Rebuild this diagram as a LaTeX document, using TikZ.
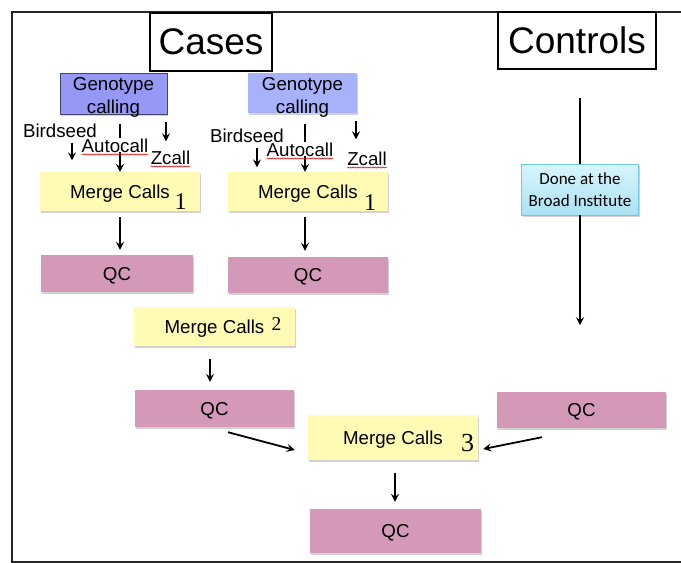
\documentclass[tikz,border=0pt]{standalone}
\usepackage{fontspec}
\setmainfont{Liberation Sans}
\newfontfamily\numfont{Liberation Serif}
\newfontfamily\calfont{Carlito}
\usepackage{xcolor}
\usetikzlibrary{calc,arrows.meta,shadows,decorations.pathmorphing}

\definecolor{genoA}{RGB}{150,152,245}
\definecolor{genoB}{RGB}{168,178,250}
\definecolor{mergeY}{RGB}{255,250,180}
\definecolor{qcP}{RGB}{212,153,184}
\definecolor{broadT}{RGB}{216,245,251}
\definecolor{broadB}{RGB}{170,226,243}
\definecolor{broadE}{RGB}{110,200,225}

\tikzset{
  txt/.style={font=\fontsize{18.7}{23}\selectfont},
  shad/.style={drop shadow={shadow xshift=1pt,shadow yshift=-2pt,fill=black!35,opacity=.5}},
  titlebox/.style={draw,fill=white,line width=1.5pt,inner sep=0pt,text depth=0pt,font=\fontsize{37}{40}\selectfont},
  genobox/.style={txt,shad,align=center,inner sep=0pt},
  mergebox/.style={txt,shad,fill=mergeY,inner sep=0pt,text depth=0pt},
  qcbox/.style={txt,shad,fill=qcP,inner sep=0pt,text depth=0pt},
  broadbox/.style={shad,draw=broadE,top color=broadT,bottom color=broadB,align=center,
    inner sep=0pt,font=\calfont\fontsize{17}{22}\selectfont},
  lbl/.style={txt,anchor=base,inner sep=0pt},
  numtxt/.style={anchor=base,inner sep=0pt},
  squig/.style={red!85!black,line width=.5pt,decorate,decoration={snake,amplitude=.6pt,segment length=2.5pt}},
  arr/.style={line width=1.8pt,-{Stealth[length=8pt,width=8pt,inset=3pt]}}
}

\begin{document}
\begin{tikzpicture}[x=1pt,y=-1pt]
\useasboundingbox (0,0) rectangle (681,563);
\draw[line width=2.8pt,black!85] (681,12) -- (12,12) -- (12,562) -- (681,562);

\node[titlebox,minimum width=122,minimum height=58] (cases) at (211,42) {Cases};
\node[titlebox,minimum width=158,minimum height=57] (controls) at (577,40.5) {Controls};

\node[genobox,fill=genoA,draw=genoA!45!black,minimum width=107,minimum height=41] (geno1) at (113.5,93.5) {};
\node[genobox,fill=genoB,minimum width=109,minimum height=40] (geno2) at (302.5,93) {};
\node[lbl,align=center] (gt1) at (113.5,113) {Genotype\\calling};
\node[lbl,align=center] (gt2) at (302.5,113) {Genotype\\calling};

\node[mergebox,minimum width=160,minimum height=39] (merge1) at (120,191.5) {Merge Calls};
\node[mergebox,minimum width=160,minimum height=39] (merge2) at (308,191.5) {Merge Calls};
\node[qcbox,minimum width=152,minimum height=37] (qc1) at (117,273.5) {QC};
\node[qcbox,minimum width=160,minimum height=36] (qc2) at (308,275) {QC};
\node[mergebox,minimum width=161,minimum height=39] (merge12) at (214.5,326.5) {Merge Calls};
\node[qcbox,minimum width=159,minimum height=37] (qc12) at (214.5,408.5) {QC};
\node[mergebox,minimum width=170,minimum height=45] (merge3) at (393,437.5) {Merge Calls};
\node[qcbox,minimum width=171,minimum height=44] (qc3) at (395.5,531) {QC};
\node[qcbox,minimum width=169,minimum height=36] (qcctl) at (581.5,410) {QC};
\node[broadbox,minimum width=117,minimum height=51] (broad) at (580,189.5) {Done at the\\Broad Institute};

\node[numtxt,font=\numfont\fontsize{24}{24}\selectfont] (n1a) at (180.5,209) {1};
\node[numtxt,font=\numfont\fontsize{24}{24}\selectfont] (n1b) at (370,210) {1};
\node[numtxt,font=\numfont\fontsize{19.5}{20}\selectfont] (n2) at (276.5,330) {2};
\node[numtxt,font=\numfont\fontsize{26}{26}\selectfont] (n3) at (467.5,451) {3};

\coordinate (au1top) at ($(geno1.south)+(6.5,10)$);
\coordinate (au2top) at ($(geno2.south)+(2.5,11)$);
\draw[arr] (au1top) -- (au1top |- merge1.north);
\draw[arr] (au2top) -- (au2top |- merge2.north);

\node[lbl] (bs1) at (60,137) {Birdseed};
\node[lbl,fill=white] (au1) at (115,152) {Autocall};
\node[lbl] (zc1) at (170.5,164) {Zcall};
\node[lbl] (bs2) at (247,142) {Birdseed};
\node[lbl,fill=white] (au2) at (300,156) {Autocall};
\node[lbl] (zc2) at (367,165) {Zcall};

\draw[arr] ($(bs1.south)+(12,6)$) -- ($(bs1.south)+(12,23)$);
\draw[arr] ($(zc1.north)+(-4.5,-28)$) -- ($(zc1.north)+(-4.5,-9)$);
\draw[arr] ($(bs2.south)+(10,6)$) -- ($(bs2.south)+(10,25)$);
\draw[arr] ($(zc2.north)+(-11,-30)$) -- ($(zc2.north)+(-11,-12)$);
\draw[squig] ($(au1.base west)+(0,2.5)$) -- ($(au1.base east)+(0,2.5)$);
\draw[squig] ($(au2.base west)+(0,2.5)$) -- ($(au2.base east)+(0,2.5)$);
\draw[squig] ($(zc1.base west)+(0,2.5)$) -- ($(zc1.base east)+(0,2.5)$);
\draw[squig] ($(zc2.base west)+(0,2.5)$) -- ($(zc2.base east)+(0,2.5)$);

\draw[arr,shorten <=6pt,shorten >=5pt] (merge1.south) -- (merge1.south |- qc1.north);
\draw[arr,shorten <=6pt,shorten >=6pt] ([xshift=-3pt]merge2.south) -- ([xshift=-3pt]merge2.south |- qc2.north);
\draw[arr,shorten <=13pt,shorten >=8pt] ([xshift=-4.5pt]merge12.south) -- ([xshift=-4.5pt]merge12.south |- qc12.north);
\draw[arr,shorten <=13pt,shorten >=7pt] ([xshift=2pt]merge3.south) -- ([xshift=2pt]merge3.south |- qc3.north);
\draw[arr] ($(qc12.south)+(13.5,5)$) -- ($(merge3.west)+(-13,12.5)$);
\draw[arr] ($(qcctl.south)+(-39.5,9)$) -- ($(merge3.east)+(5,11.5)$);

\draw[line width=1.8pt] ($(controls.south)+(3,28)$) -- (broad.north);
\draw[arr] (broad.south) -- ++(0,110);
\end{tikzpicture}
\end{document}
